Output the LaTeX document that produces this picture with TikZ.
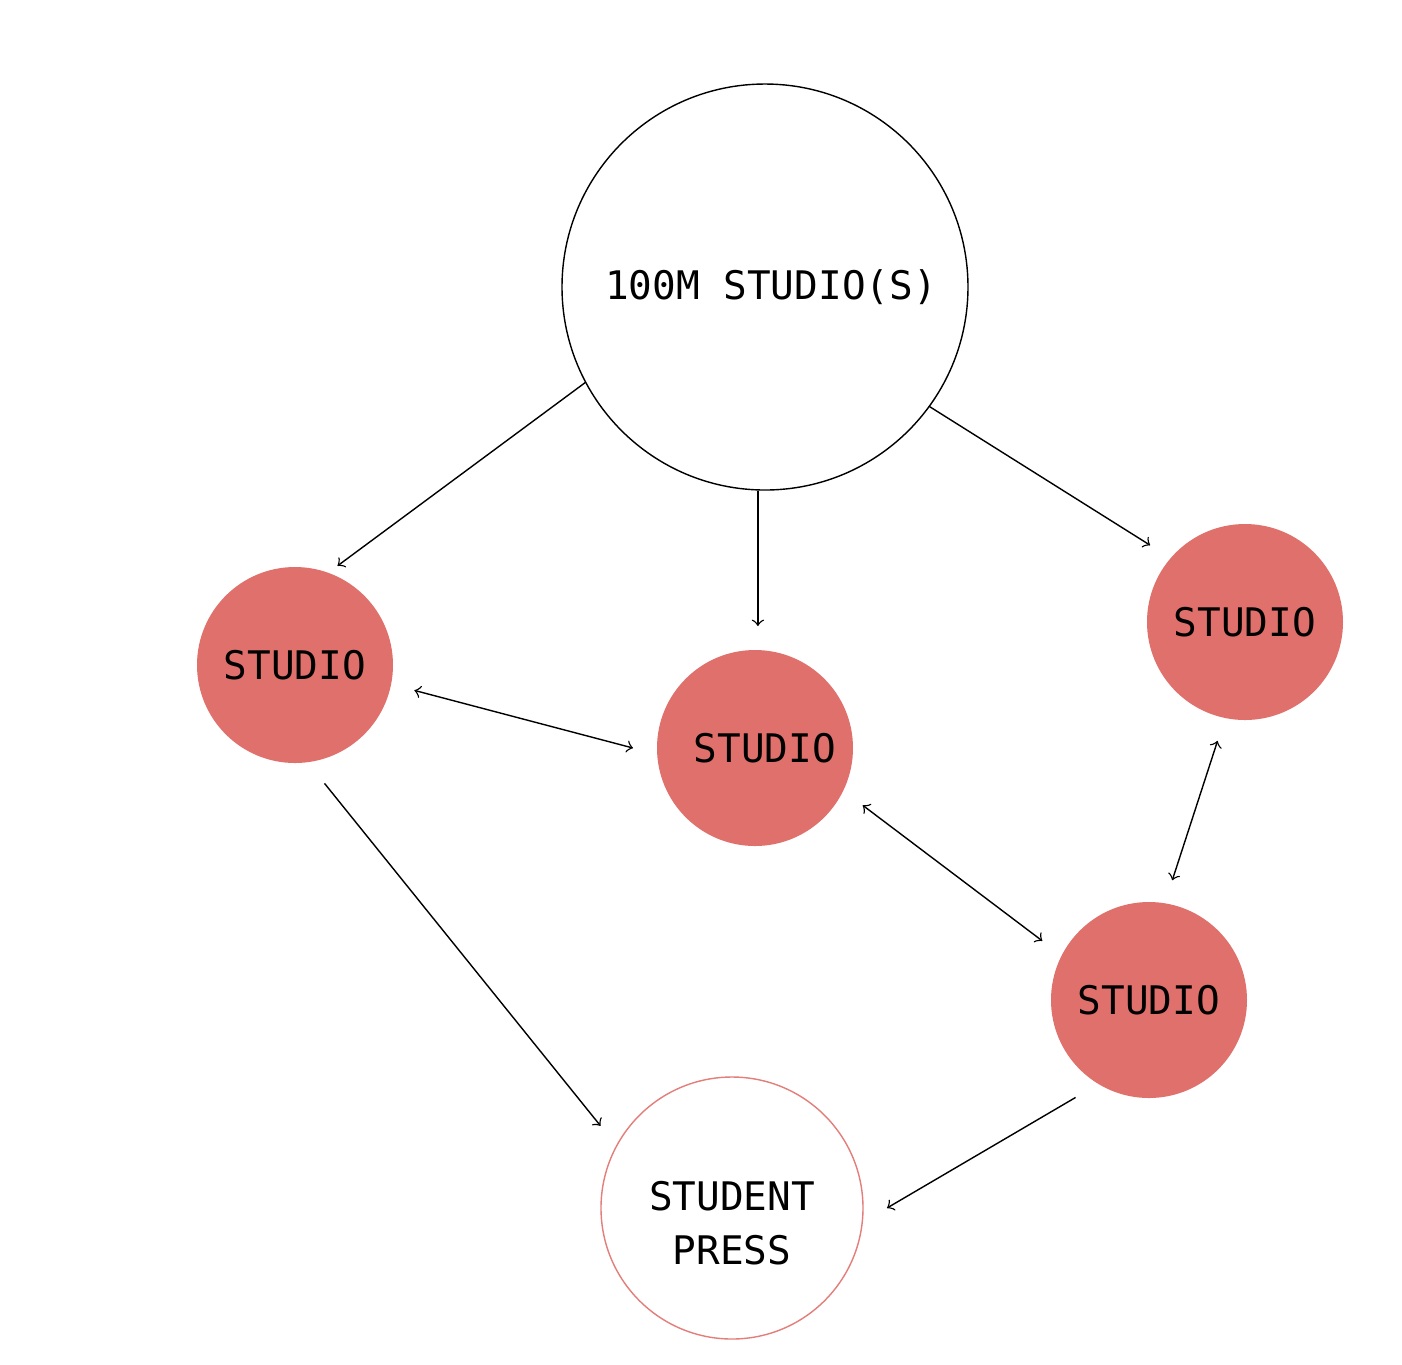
\documentclass[tikz,border=0pt]{standalone}
\usepackage{fontspec}
\setmonofont{DejaVu Sans Mono}
\usepackage{xcolor}
\usepackage{tikz}
\usetikzlibrary{arrows, positioning, calc}
\definecolor{studiored}{HTML}{E0706B}

\begin{document}
\begin{tikzpicture}[node distance=1.5cm, auto,
    hub/.style={draw, circle, minimum size=4.06cm, inner sep=0pt, font=\ttfamily\fontsize{11.2}{15.4}\selectfont},
    studio/.style={circle, fill=studiored, minimum size=1.96cm, inner sep=0pt, outer sep=0.24cm, font=\ttfamily\fontsize{11.2}{15.4}\selectfont},
    press/.style={draw=studiored!90, circle, minimum size=2.62cm, inner sep=0pt, outer sep=0.24cm, font=\ttfamily\fontsize{11.2}{15.4}\selectfont}]
    \useasboundingbox (0,0) rectangle (14.02,-13.64);

    \node (hub) [hub] at (7.65,-2.87) {\hspace{0.12cm}100M STUDIO(S)};
    \node (studioA) [studio] at (2.95,-6.65) {STUDIO};
    \node (studioB) [studio] at (7.55,-7.48) {\hspace{0.2cm}STUDIO};
    \node (studioC) [studio] at (12.45,-6.22) {STUDIO};
    \node (studioD) [studio] at (11.49,-10.00) {STUDIO};
    \node (press) [press, label={[align=center, yshift=-0.15cm, font=\ttfamily\fontsize{11.2}{15.4}\selectfont]center:STUDENT\\PRESS}] at (7.32,-12.08) {};

    \draw [->, shorten >=-0.16cm] (hub.208) -- (studioA.63);
    \draw [->] (hub.268) -- (hub.268 |- studioB.north);
    \draw [->] (hub.324) -- (studioC.141);
    \draw [<->] (studioA.-12) -- (studioB.180);
    \draw [<->] (studioB.-28) -- (studioD.151);
    \draw [<->] (studioC.257) -- (studioD.79);
    \draw [->] (studioA.284) -- (press.148);
    \draw [->] (studioD.233) -- (press.0);
\end{tikzpicture}
\end{document}
